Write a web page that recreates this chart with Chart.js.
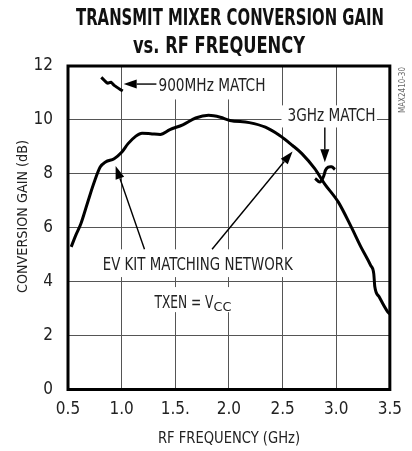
<!DOCTYPE html>
<html>
<head>
<meta charset="utf-8">
<script src="https://cdn.jsdelivr.net/npm/chart.js@4/dist/chart.umd.min.js"></script>
<style>
  html, body { margin: 0; padding: 0; background: #fff; }
  #wrap { width: 412px; height: 451px; }
</style>
</head>
<body>
<div id="wrap"><canvas id="gainChart" width="412" height="451"></canvas></div>
<script>
// data (x in GHz, y in dB)
const freq = [0.53, 0.57, 0.62, 0.68, 0.74, 0.80, 0.85, 0.93, 1.00, 1.06, 1.13, 1.19, 1.27, 1.36, 1.45, 1.57, 1.69, 1.81, 1.92, 2.01, 2.19, 2.34, 2.47, 2.59, 2.68, 2.80, 2.89, 3.02, 3.14, 3.23, 3.32, 3.35, 3.36, 3.40, 3.48, 3.50];
const gain = [5.29, 5.70, 6.15, 6.90, 7.64, 8.25, 8.44, 8.56, 8.80, 9.12, 9.39, 9.51, 9.49, 9.46, 9.64, 9.82, 10.07, 10.17, 10.10, 9.98, 9.90, 9.73, 9.43, 9.06, 8.75, 8.19, 7.64, 6.95, 6.03, 5.29, 4.61, 4.30, 3.81, 3.44, 2.88, 2.80];
// 900MHz match fragment
const freq900 = [0.81, 0.87, 0.90, 0.93, 1.01];
const gain900 = [11.58, 11.36, 11.40, 11.28, 11.07];
// 3GHz match fragment
const freq3g = [2.803, 2.849, 2.880, 2.910, 2.956, 2.988];
const gain3g = [7.83, 7.70, 7.89, 8.20, 8.26, 8.16];

const xTicks = [0.5, 1.0, 1.5, 2.0, 2.5, 3.0, 3.5];
const xTickLabels = ['0.5', '1.0', '1.5.', '2.0', '2.5', '3.0', '3.5'];
const yTickLabels = ['0', '2', '4', '6', '8', '10', '12'];

const FONT = "'Liberation Sans Narrow', 'Arial Narrow', 'DejaVu Sans Condensed', sans-serif";

function pts(xs, ys) {
  return xs.map((x, i) => ({x: x, y: ys[i]}));
}

// callouts in data units
const boxes = [
  {x0: 1.287, x1: 2.37, y0: 10.76, y1: 12},
  {x0: 2.49, x1: 3.38, y0: 9.72, y1: 10.54},
  {x0: 0.778, x1: 2.63, y0: 4.17, y1: 5.2},
  {x0: 1.26, x1: 2.07, y0: 2.87, y1: 3.8}
];
const arrows = [
  {fx: 1.324, fy: 11.33, tx: 1.019, ty: 11.33},
  {fx: 2.894, fy: 9.72, tx: 2.894, ty: 8.43},
  {fx: 1.213, fy: 5.2, tx: 0.944, ty: 8.29},
  {fx: 1.843, fy: 5.2, tx: 2.593, ty: 8.83}
];
const notes = [
  {text: '900MHz MATCH', x: 1.343, y: 11.33, w: 107},
  {text: '3GHz MATCH', x: 2.546, y: 10.2, w: 88},
  {text: 'EV KIT MATCHING NETWORK', x: 0.824, y: 4.67, w: 190}
];

// draw caps text centred on cy, squeezed to width w
function fitText(ctx, s, x, cy, size, w, weight, align, color) {
  ctx.save();
  ctx.font = (weight || 'normal') + ' ' + size + 'px ' + FONT;
  const m = ctx.measureText(s).width;
  const sx = w ? w / m : 1;
  const width = w || m;
  let left = x;
  if (align === 'center') left = x - width / 2;
  ctx.translate(left, cy + 0.36 * size);
  ctx.scale(sx, 1);
  ctx.textAlign = 'left';
  ctx.textBaseline = 'alphabetic';
  ctx.fillStyle = color || '#222';
  ctx.fillText(s, 0, 0);
  ctx.restore();
}

function arrow(ctx, x1, y1, x2, y2) {
  const ang = Math.atan2(y2 - y1, x2 - x1);
  const hl = 13, hw = 4.5;
  ctx.save();
  ctx.strokeStyle = '#000';
  ctx.fillStyle = '#000';
  ctx.lineWidth = 1.4;
  ctx.beginPath();
  ctx.moveTo(x1, y1);
  ctx.lineTo(x2 - hl * Math.cos(ang), y2 - hl * Math.sin(ang));
  ctx.stroke();
  ctx.beginPath();
  ctx.moveTo(x2, y2);
  ctx.lineTo(x2 - hl * Math.cos(ang) + hw * Math.sin(ang), y2 - hl * Math.sin(ang) - hw * Math.cos(ang));
  ctx.lineTo(x2 - hl * Math.cos(ang) - hw * Math.sin(ang), y2 - hl * Math.sin(ang) + hw * Math.cos(ang));
  ctx.closePath();
  ctx.fill();
  ctx.restore();
}

const decorations = {
  id: 'decorations',
  beforeDatasetsDraw(chart) {
    const ctx = chart.ctx;
    const xs = chart.scales.x, ys = chart.scales.y;
    ctx.save();
    ctx.fillStyle = '#fff';
    boxes.forEach(b => {
      const l = xs.getPixelForValue(b.x0), r = xs.getPixelForValue(b.x1);
      const t = ys.getPixelForValue(b.y1), bt = ys.getPixelForValue(b.y0);
      ctx.fillRect(l, t, r - l, bt - t);
    });
    ctx.restore();
  },
  afterDatasetsDraw(chart) {
    const ctx = chart.ctx;
    const a = chart.chartArea;
    const xs = chart.scales.x, ys = chart.scales.y;

    arrows.forEach(ar => {
      arrow(ctx, xs.getPixelForValue(ar.fx), ys.getPixelForValue(ar.fy),
        xs.getPixelForValue(ar.tx), ys.getPixelForValue(ar.ty));
    });
    notes.forEach(n => {
      fitText(ctx, n.text, xs.getPixelForValue(n.x), ys.getPixelForValue(n.y), 18, n.w, 'normal', 'left', '#222');
    });

    // TXEN = Vcc with subscript
    const tx = xs.getPixelForValue(1.306), ty = ys.getPixelForValue(3.28);
    fitText(ctx, 'TXEN = V', tx, ty, 18, 59, 'normal', 'left', '#222');
    fitText(ctx, 'CC', tx + 59, ty + 5, 13, 18, 'normal', 'left', '#222');

    // frame
    ctx.save();
    ctx.strokeStyle = '#000';
    ctx.lineWidth = 3;
    ctx.strokeRect(a.left, a.top, a.right - a.left, a.bottom - a.top);
    ctx.restore();

    // titles
    fitText(ctx, 'TRANSMIT MIXER CONVERSION GAIN', 230, 16.7, 23, 308, 'bold', 'center', '#111');
    fitText(ctx, 'vs. RF FREQUENCY', 219, 44.5, 23, 172, 'bold', 'center', '#111');
    fitText(ctx, 'RF FREQUENCY (GHz)', 229, 437.5, 16, 142, 'normal', 'center', '#222');

    ctx.save();
    ctx.translate(22, 216.5);
    ctx.rotate(-Math.PI / 2);
    fitText(ctx, 'CONVERSION GAIN (dB)', 0, 0, 14, 153, 'normal', 'center', '#222');
    ctx.restore();

    ctx.save();
    ctx.translate(401.5, 90);
    ctx.rotate(-Math.PI / 2);
    fitText(ctx, 'MAX2410-30', 0, 0, 9, 46, 'normal', 'center', '#666');
    ctx.restore();
  }
};

const lineStyle = {
  borderColor: '#000',
  borderWidth: 3,
  pointRadius: 0,
  fill: false
};

new Chart(document.getElementById('gainChart'), {
  type: 'line',
  data: {
    datasets: [
      Object.assign({label: 'EV kit', data: pts(freq, gain), cubicInterpolationMode: 'monotone'}, lineStyle),
      Object.assign({label: '900MHz', data: pts(freq900, gain900), tension: 0.2}, lineStyle),
      Object.assign({label: '3GHz', data: pts(freq3g, gain3g), tension: 0.4}, lineStyle)
    ]
  },
  options: {
    responsive: false,
    animation: false,
    devicePixelRatio: 1,
    layout: { padding: {top: 66, right: 20, left: 0, bottom: 0} },
    plugins: {
      legend: { display: false },
      tooltip: { enabled: false },
      title: { display: false }
    },
    scales: {
      x: {
        type: 'linear',
        min: 0.5,
        max: 3.5,
        afterBuildTicks: s => { s.ticks = xTicks.map(v => ({value: v})); },
        afterFit: s => { s.height = 61.5; },
        ticks: {
          padding: 10,
          color: '#222',
          font: {family: FONT, size: 17},
          maxRotation: 0,
          callback: (v) => xTickLabels[xTicks.indexOf(v)]
        },
        grid: { color: '#555', lineWidth: 1, drawTicks: false },
        border: { display: false }
      },
      y: {
        min: 0,
        max: 12,
        afterFit: s => { s.width = 68; },
        ticks: {
          stepSize: 2,
          padding: 15,
          color: '#222',
          font: {family: FONT, size: 17},
          callback: (v) => yTickLabels[v / 2]
        },
        grid: { color: '#555', lineWidth: 1, drawTicks: false },
        border: { display: false }
      }
    }
  },
  plugins: [decorations]
});
</script>
</body>
</html>
